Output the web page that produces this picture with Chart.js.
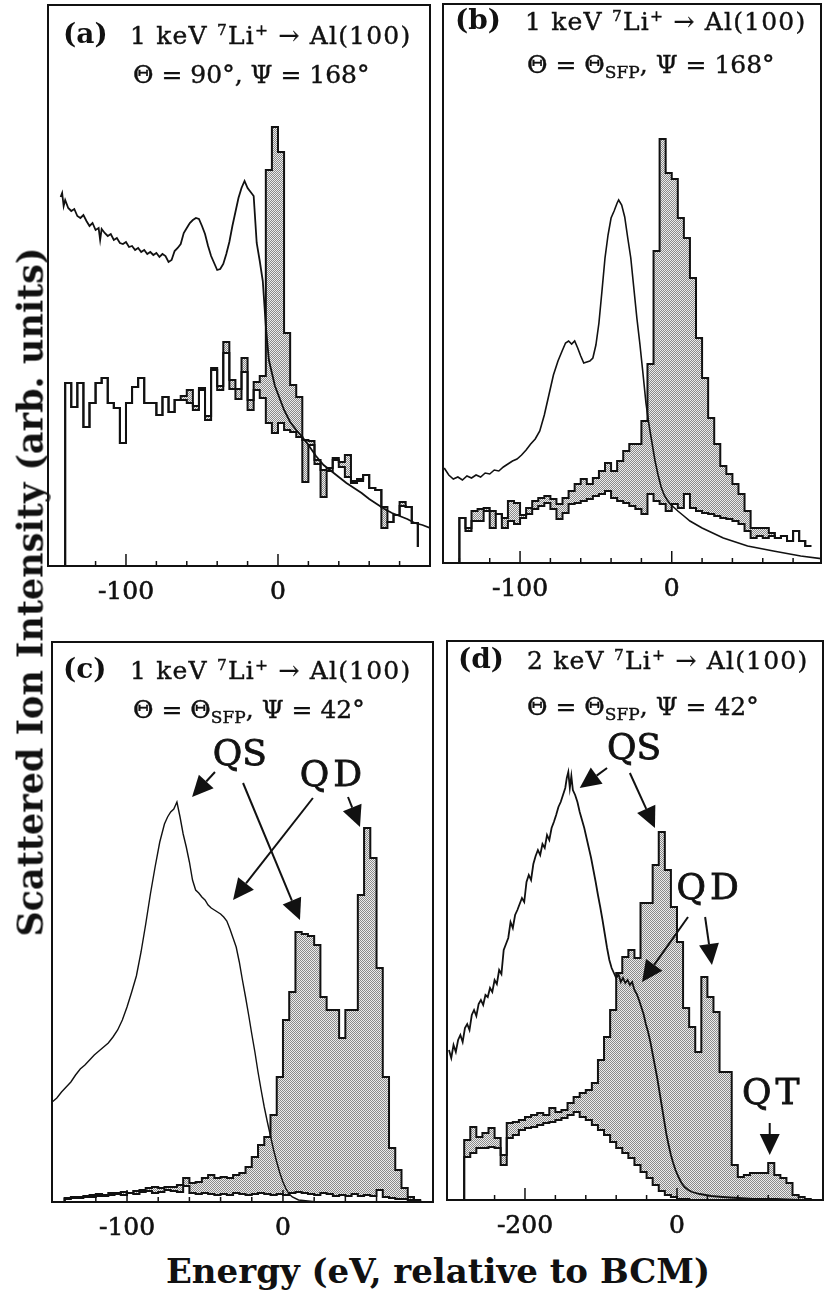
<!DOCTYPE html>
<html>
<head>
<meta charset="utf-8">
<script src="https://cdn.jsdelivr.net/npm/chart.js@4.4.1/dist/chart.umd.min.js"></script>
<style>
  body { margin: 0; background: #fff; }
  #page { position: relative; width: 825px; height: 1293px; overflow: hidden; font-family: 'DejaVu Serif', serif; color: #111; }
  canvas { position: absolute; }
  .t { position: absolute; white-space: nowrap; line-height: 1; font-size: 25px; -webkit-text-stroke: 0.4px #111; }
  .l1 { letter-spacing: 1.2px; }
  .tag { font-weight: bold; font-size: 28px; -webkit-text-stroke: 0; }
  sup { font-size: 0.62em; line-height: 0; vertical-align: 0.55em; }
  sub { font-size: 0.68em; line-height: 0; vertical-align: -0.3em; }
  #ylab { position: absolute; left: 30px; top: 592px; transform: translate(-50%, -50%) rotate(-90deg);
          white-space: nowrap; line-height: 1; font-size: 35px; font-weight: bold; }
  #xlab { position: absolute; left: 438px; top: 1254px; transform: translateX(-50%);
          white-space: nowrap; line-height: 1; font-size: 34px; font-weight: bold; }
</style>
</head>
<body>
<div id="page">
  <canvas id="ca"></canvas>
  <canvas id="cb"></canvas>
  <canvas id="cc"></canvas>
  <canvas id="cd"></canvas>

  <div class="t tag" style="left:63px; top:20px;">(a)</div>
  <div class="t l1" style="left:130px; top:23px;">1 keV <sup>7</sup>Li<sup>+</sup> → Al(100)</div>
  <div class="t" style="left:133px; top:62px;">Θ = 90°, Ψ = 168°</div>

  <div class="t tag" style="left:455px; top:6px;">(b)</div>
  <div class="t l1" style="left:525px; top:9px;">1 keV <sup>7</sup>Li<sup>+</sup> → Al(100)</div>
  <div class="t" style="left:527px; top:52px;">Θ = Θ<sub>SFP</sub>, Ψ = 168°</div>

  <div class="t tag" style="left:63px; top:655px;">(c)</div>
  <div class="t l1" style="left:130px; top:658px;">1 keV <sup>7</sup>Li<sup>+</sup> → Al(100)</div>
  <div class="t" style="left:133px; top:697px;">Θ = Θ<sub>SFP</sub>, Ψ = 42°</div>

  <div class="t tag" style="left:458px; top:645px;">(d)</div>
  <div class="t l1" style="left:527px; top:648px;">2 keV <sup>7</sup>Li<sup>+</sup> → Al(100)</div>
  <div class="t" style="left:527px; top:694px;">Θ = Θ<sub>SFP</sub>, Ψ = 42°</div>

  <div id="ylab">Scattered Ion Intensity (arb. units)</div>
  <div id="xlab">Energy (eV, relative to BCM)</div>
</div>

<script>
// ---- panel (a): 1 keV, Theta = 90, Psi = 168 ----
const aBinStart = -140, aBinWidth = 4, aEnd = 19;
const aUpper = [183,159,183,139,163,183,188,163,158,123,
                163,179,188,163,163,151,169,154,166,170,
                176,160,178,150,198,180,224,186,177,208,
                166,184,190,396,439,414,233,181,169,126,
                125,106,96,98,108,104,111,85,87,91,
                78,76,59,44,51,64,59,43];
const aLower = [183,159,183,139,163,183,188,163,158,123,
                163,179,188,163,163,151,169,154,166,166,
                163,156,176,146,196,176,213,177,167,194,
                156,176,168,143,133,143,136,134,129,84,
                121,102,69,95,106,99,89,83,85,91,
                78,76,38,44,51,60,59,43];
const aCurveE = [-143,-142,-141,-140,-138,-136,-134,-132,-130,-128,-126,-124,-122,-120,-118,-117,
                 -116,-114,-112,-110,-108,-106,-104,-102,-100,-98,-96,-94,-92,-90,-88,-86,-84,-82,-80,-78,
                 -76,-74,-72,-70,-68,-66,-64,-62,-60,-58,-56,-54,-52,-50,-48,-46,-44,-42,-40,-38,
                 -36,-34,-32,-30,-28,-26,-24,-22,-20,-18,-16,-14,-12,-10,-8,-6,-4,-2,
                 0,4,8,12,16,20,25,30,35,40,45,50,55,60,65,70,75,80,85,90,95,100];
const aCurveI = [369,373,360,366,358,355,357,350,348,351,345,340,343,336,338,326,
                 337,333,330,332,326,328,323,322,324,319,320,316,318,314,316,312,314,311,313,309,
                 312,310,304,306,315,318,322,333,338,343,346,348,347,340,332,320,310,303,296,297,
                 302,312,324,340,354,368,378,385,378,374,370,323,305,285,240,206,193,180,
                 172,156,144,136,129,121,110,101,95,89,83,78,73,67,62,57,53,50,47,43,41,38];
const aTicks = [-140,-120,-100,-80,-60,-40,-20,0,20,40,60,80];
const aTickLabels = [-100, 0];

// ---- panel (b): 1 keV, Theta = Theta_SFP, Psi = 168 ----
const bBinStart = -140, bBinWidth = 4, bEnd = 17;
const bUpper = [45,35,52,54,55,52,49,45,62,60,
                48,55,62,65,67,64,59,65,72,79,
                84,79,85,92,100,92,102,112,119,119,
                142,199,312,424,390,384,345,325,285,225,
                185,145,119,97,89,79,69,52,35,35,
                35,30,25,27,22,32,22,17];
const bLower = [45,32,42,42,52,35,49,35,42,39,
                45,49,54,57,60,54,44,50,59,60,
                62,64,67,69,72,65,62,60,57,54,
                49,69,62,59,52,59,55,69,55,52,
                50,49,47,45,44,42,39,32,25,27,
                25,27,25,27,22,32,22,17];
const bCurveE = [-150,-147,-144,-141,-138,-135,-132,-129,-126,-123,-120,-117,-114,-111,-108,-105,-102,-99,-96,-93,
                 -90,-87,-84,-81,-78,-75,-72,
                 -70,-68,-66,-64,-62,-60,-58,-56,-54,-52,-50,-48,-46,-44,-42,-40,-38,-36,
                 -35,-33,-31,-29,-27,-25,-23,-21,-19,-17,-15,-13,-11,-9,-7,-5,-3,-1,
                 4,8,12,20,34,50,67,85,100];
const bCurveI = [95,88,84,86,83,87,85,88,86,90,89,93,92,96,99,102,104,108,113,119,
                 124,132,148,168,188,202,213,
                 220,222,219,222,215,207,200,201,202,205,218,240,272,305,328,345,352,360,
                 363,358,346,325,305,275,245,219,190,160,138,120,102,88,76,68,63,59,
                 52,47,42,35,25,17,12,7,4];
const bTicks = [-140,-120,-100,-80,-60,-40,-20,0,20,40,60,80];
const bTickLabels = [-100, 0];

// ---- panel (c): 1 keV, Theta = Theta_SFP, Psi = 42 ----
const cBinStart = -140, cBinWidth = 4, cEnd = 0;
const cUpper = [4,5,5,6,7,8,7,9,9,10,
                9,11,12,14,15,14,15,15,17,24,
                19,20,24,27,24,25,24,27,29,35,
                45,57,65,87,125,182,210,270,268,266,
                257,205,192,192,164,192,192,307,374,344,
                234,125,54,32,14,5,2];
const cLower = [3,4,4,5,5,6,6,7,8,7,
                9,8,10,11,9,10,12,11,10,16,
                9,8,9,8,7,8,7,9,8,7,
                8,9,8,7,8,7,9,10,9,8,
                7,9,8,6,7,6,8,6,7,6,
                12,5,4,3,3,2,1];
const cCurveE = [-148,-145,-142,-139,-136,-133,-130,-127,-124,-121,-118,-115,-112,-109,-106,-103,-100,-97,-94,-91,
                 -88,-85,-82,-79,-76,
                 -74,-72,-70,-68,-66,-64,-62,-60,-58,-56,-54,-52,-50,-48,-46,-44,-42,-40,-38,-36,
                 -34,-32,-30,-28,-26,-24,-22,-20,-18,-16,-14,-12,-10,-8,-6,-4,-2,
                 0,2,4,6,10,16,22,40,60,96];
const cCurveI = [100,104,110,115,120,127,133,137,142,147,151,155,159,165,172,182,195,210,226,250,
                 278,308,335,360,378,
                 385,390,393,400,385,368,355,340,322,312,309,305,302,297,294,292,290,288,285,281,
                 273,264,255,240,222,205,187,168,150,130,112,95,80,66,52,40,29,
                 20,13,8,5,2,1,0,0,0,0];
const cTicks = [-140,-120,-100,-80,-60,-40,-20,0,20,40,60,80];
const cTickLabels = [-100, 0];
const cNoteText = ['QS', 'QD'];
const cNoteE = [-27.6, 32];
const cNoteI = [446, 425];
const cArrowFromE = [-43.6, -25.6, 19.2, 41.7];
const cArrowFromI = [430, 419, 404, 405];
const cArrowToE = [-58.3, 10.9, -32, 49.4];
const cArrowToI = [405, 282, 302, 375];

// ---- panel (d): 2 keV, Theta = Theta_SFP, Psi = 42 ----
const dBinStart = -280, dBinWidth = 8, dEnd = 0;
const dUpper = [60,73,63,67,72,62,45,77,78,80,
                83,85,87,85,92,88,90,97,103,107,
                110,117,140,163,190,227,243,250,242,297,
                297,335,368,330,293,258,192,173,148,223,
                203,188,128,128,35,23,25,27,27,27,
                37,25,22,17,5,3,1];
const dLower = [43,47,52,52,53,52,35,62,65,70,
                72,73,75,77,78,80,82,85,88,83,
                80,75,70,65,58,52,47,42,35,28,
                22,15,9,5,3,1,1,0,0,0,
                0,0,0,0,0,0,0,0,0,0,
                0,0,0,0,0,0,0];
const dCurveE = [-300,-297,-294,-291,-288,-285,-282,-279,-276,-273,-270,-267,-264,-261,-258,-255,-252,-249,-246,-243,
                 -240,-237,-234,-231,-228,-225,-222,-219,-216,-213,-210,-207,-204,-201,-198,-195,-192,-189,-186,-183,
                 -180,-177,-174,-171,-168,-165,-162,-159,-156,-153,-150,
                 -147,-145,-143,-141,-139,-137,
                 -134,-131,-128,-125,-122,-119,-116,-113,-110,-107,-104,-101,-98,-95,-92,-89,-86,-83,-80,-77,
                 -74,-71,-68,-65,-62,-59,-56,-53,-50,-47,-44,-41,-38,-35,-32,-29,-26,-23,-20,-17,-14,-11,-8,-5,-2,
                 2,6,10,15,20,30,45,60,80,100,130,160,192];
const dCurveI = [150,142,155,148,160,165,158,172,176,170,185,190,184,196,200,195,205,203,212,208,
                 220,216,230,226,250,256,262,278,272,285,290,296,302,298,318,325,320,336,344,350,
                 345,356,352,365,360,372,378,385,393,398,405,
                 412,422,428,412,424,410,
                 405,398,388,380,372,362,352,342,330,318,305,293,280,266,252,240,232,227,222,226,
                 218,222,217,220,215,218,210,206,200,193,186,176,168,158,146,134,122,108,94,80,66,55,45,37,30,
                 23,17,13,10,8,6,4,3,2,1,1,0,0];
const dTicks = [-280,-240,-200,-160,-120,-80,-40,0,40,80,120,160];
const dTickLabels = [-200, 0];
const dNoteText = ['QS', 'QD', 'QT'];
const dNoteE = [-56.6, 43, 126];
const dNoteI = [450, 310, 105];
const dArrowFromE = [-92, -62, 14.5, 37, 122];
const dArrowFromI = [432, 427, 283, 283, 77];
const dArrowToE = [-128, -29, -46, 46, 122];
const dArrowToI = [412, 372, 218, 235, 45];

const INK = '#111';

// dotted halftone fill like the printed figure
function shadePattern() {
    const c = document.createElement('canvas');
    c.width = 2; c.height = 2;
    const g = c.getContext('2d');
    g.fillStyle = '#ececec';
    g.fillRect(0, 0, 2, 2);
    g.fillStyle = '#8a8a8a';
    g.fillRect(0, 0, 1, 1);
    g.fillRect(1, 1, 1, 1);
    return g.createPattern(c, 'repeat');
}

function histPoints(start, width, values, endValue) {
    const pts = [{ x: start, y: 0 }];
    values.forEach((v, i) => pts.push({ x: start + i * width, y: v }));
    pts.push({ x: start + values.length * width, y: endValue });
    return pts;
}

function curvePoints(es, is) {
    return es.map((e, i) => ({ x: e, y: is[i] }));
}

// frame, inward ticks, tick labels and the QS/QD/QT arrows
function framePlugin(ticks, tickLabels, notes) {
    return {
        id: 'frame',
        afterDatasetsDraw(chart) {
            const { ctx, chartArea: a, scales: { x, y } } = chart;
            ctx.save();
            ctx.strokeStyle = INK;
            ctx.fillStyle = INK;
            ctx.lineWidth = 2;
            ctx.strokeRect(a.left, a.top, a.right - a.left, a.bottom - a.top);

            ctx.lineWidth = 1.5;
            ticks.forEach(v => {
                const px = x.getPixelForValue(v);
                const len = tickLabels.includes(v) ? 12 : 5;
                ctx.beginPath();
                ctx.moveTo(px, a.bottom);
                ctx.lineTo(px, a.bottom - len);
                ctx.stroke();
            });

            ctx.font = '25px "DejaVu Serif"';
            ctx.textAlign = 'center';
            ctx.textBaseline = 'alphabetic';
            ctx.lineWidth = 0.6;
            tickLabels.forEach(v => {
                const px = x.getPixelForValue(v);
                ctx.fillText(String(v), px, a.bottom + 33);
                ctx.strokeText(String(v), px, a.bottom + 33);
            });

            if (notes) {
                ctx.font = '36px "DejaVu Serif"';
                ctx.textBaseline = 'middle';
                ctx.lineWidth = 0.8;
                notes.text.forEach((t, i) => {
                    ctx.letterSpacing = t === 'QS' ? '0px' : '4px';
                    const px = x.getPixelForValue(notes.e[i]), py = y.getPixelForValue(notes.i[i]);
                    ctx.fillText(t, px, py);
                    ctx.strokeText(t, px, py);
                });
                ctx.letterSpacing = '0px';
                ctx.lineWidth = 2;
                notes.fromE.forEach((fe, i) => {
                    const x0 = x.getPixelForValue(fe), y0 = y.getPixelForValue(notes.fromI[i]);
                    const x1 = x.getPixelForValue(notes.toE[i]), y1 = y.getPixelForValue(notes.toI[i]);
                    const ang = Math.atan2(y1 - y0, x1 - x0);
                    const head = 21, half = 10;
                    const bx = x1 - head * Math.cos(ang), by = y1 - head * Math.sin(ang);
                    ctx.beginPath();
                    ctx.moveTo(x0, y0);
                    ctx.lineTo(bx, by);
                    ctx.stroke();
                    ctx.beginPath();
                    ctx.moveTo(x1, y1);
                    ctx.lineTo(bx + half * Math.sin(ang), by - half * Math.cos(ang));
                    ctx.lineTo(bx - half * Math.sin(ang), by + half * Math.cos(ang));
                    ctx.closePath();
                    ctx.fill();
                });
            }
            ctx.restore();
        }
    };
}

function makePanel(id, box, xMin, xMax, hist, curve, ticks, tickLabels, notes) {
    const pad = 4, below = 45;
    const canvas = document.getElementById(id);
    canvas.width = box.r - box.l + 2 * pad;
    canvas.height = box.b - box.t + pad + below;
    canvas.style.left = (box.l - pad) + 'px';
    canvas.style.top = (box.t - pad) + 'px';
    const shade = shadePattern();

    return new Chart(canvas.getContext('2d'), {
        type: 'line',
        data: {
            datasets: [
                {
                    data: histPoints(hist.start, hist.width, hist.upper, hist.end),
                    stepped: 'before',
                    borderColor: INK,
                    borderWidth: 2,
                    pointRadius: 0,
                    fill: { target: 1, above: shade, below: shade },
                    order: 2
                },
                {
                    data: histPoints(hist.start, hist.width, hist.lower, hist.end),
                    stepped: 'before',
                    borderColor: INK,
                    borderWidth: 2,
                    pointRadius: 0,
                    fill: false,
                    order: 1
                },
                {
                    data: curvePoints(curve.e, curve.i),
                    borderColor: INK,
                    borderWidth: curve.width,
                    pointRadius: 0,
                    tension: 0,
                    fill: false,
                    order: 0
                }
            ]
        },
        options: {
            responsive: false,
            animation: false,
            devicePixelRatio: 1,
            events: [],
            layout: { padding: { left: pad, top: pad, right: pad, bottom: below } },
            scales: {
                x: { type: 'linear', min: xMin, max: xMax, display: false },
                y: { type: 'linear', min: 0, max: box.b - box.t, display: false }
            },
            plugins: {
                legend: { display: false },
                tooltip: { enabled: false }
            }
        },
        plugins: [framePlugin(ticks, tickLabels, notes)]
    });
}

makePanel('ca', { l: 48, t: 5, r: 430, b: 566 }, -151.3, 100,
    { start: aBinStart, width: aBinWidth, upper: aUpper, lower: aLower, end: aEnd },
    { e: aCurveE, i: aCurveI, width: 1.8 }, aTicks, aTickLabels, null);

makePanel('cb', { l: 443, t: 4, r: 821, b: 563 }, -150.8, 98.4,
    { start: bBinStart, width: bBinWidth, upper: bUpper, lower: bLower, end: bEnd },
    { e: bCurveE, i: bCurveI, width: 1.6 }, bTicks, bTickLabels, null);

makePanel('cc', { l: 52, t: 642, r: 433, b: 1202 }, -148.1, 96.2,
    { start: cBinStart, width: cBinWidth, upper: cUpper, lower: cLower, end: cEnd },
    { e: cCurveE, i: cCurveI, width: 1.4 }, cTicks, cTickLabels,
    { text: cNoteText, e: cNoteE, i: cNoteI, fromE: cArrowFromE, fromI: cArrowFromI, toE: cArrowToE, toI: cArrowToI });

makePanel('cd', { l: 447, t: 641, r: 823, b: 1200 }, -302.6, 192.1,
    { start: dBinStart, width: dBinWidth, upper: dUpper, lower: dLower, end: dEnd },
    { e: dCurveE, i: dCurveI, width: 1.8 }, dTicks, dTickLabels,
    { text: dNoteText, e: dNoteE, i: dNoteI, fromE: dArrowFromE, fromI: dArrowFromI, toE: dArrowToE, toI: dArrowToI });
</script>
</body>
</html>
